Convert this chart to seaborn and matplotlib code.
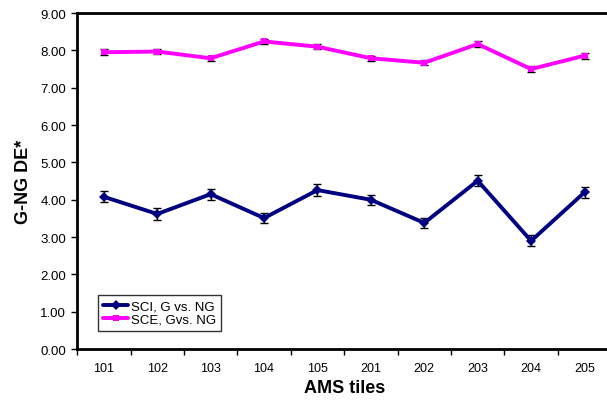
import numpy as np
import pandas as pd
import matplotlib.pyplot as plt
import seaborn as sns
from matplotlib.ticker import FixedLocator, MultipleLocator

# --- DATA ---
tiles = ["101", "102", "103", "104", "105", "201", "202", "203", "204", "205"]
sci_vals = [4.08, 3.62, 4.15, 3.51, 4.26, 4.00, 3.38, 4.51, 2.90, 4.20]
sci_err = [0.15, 0.15, 0.15, 0.13, 0.15, 0.14, 0.14, 0.15, 0.15, 0.15]
sce_vals = [7.95, 7.97, 7.79, 8.24, 8.10, 7.79, 7.67, 8.17, 7.50, 7.86]
sce_err = [0.08, 0.07, 0.07, 0.06, 0.07, 0.07, 0.07, 0.07, 0.07, 0.08]

series_names = ["SCI, G vs. NG", "SCE, Gvs. NG"]
series_colors = ["#000080", "#FF00FF"]

sns.set_style("white")
plt.rcParams["font.family"] = ["Liberation Sans", "DejaVu Sans"]
plt.rcParams["text.color"] = "black"
plt.rcParams["axes.labelcolor"] = "black"
plt.rcParams["xtick.color"] = "black"
plt.rcParams["ytick.color"] = "black"

pos = np.arange(len(tiles))
df = pd.DataFrame({
    "pos": np.concatenate([pos, pos]),
    "value": sci_vals + sce_vals,
    "series": [series_names[0]] * len(tiles) + [series_names[1]] * len(tiles),
})

fig = plt.figure(figsize=(6.07, 4.02), dpi=100)
ax = fig.add_axes([0.127, 0.129, 0.88, 0.836])

# error bars first so the lines sit on top
for vals, errs in [(sci_vals, sci_err), (sce_vals, sce_err)]:
    ax.errorbar(pos, vals, yerr=errs, fmt="none", ecolor="black",
                elinewidth=1.0, capsize=3, capthick=1.0, zorder=1)

sns.lineplot(data=df, x="pos", y="value", hue="series", style="series",
             hue_order=series_names, style_order=series_names,
             palette=series_colors, markers=["D", "s"], dashes=False,
             markersize=5, markeredgewidth=0, linewidth=2.8, ax=ax, zorder=2)

ax.set_xlim(-0.5, len(tiles) - 0.5)
ax.set_ylim(0, 9)
ax.yaxis.set_major_locator(MultipleLocator(1))
ax.yaxis.set_major_formatter(plt.FuncFormatter(lambda v, p: f"{v:.2f}"))

ax.set_xticks(pos)
ax.set_xticklabels(tiles)
ax.xaxis.set_minor_locator(FixedLocator(np.arange(-0.5, len(tiles), 1.0)))
ax.tick_params(axis="x", which="major", length=0, labelsize=9, pad=9)
ax.tick_params(axis="x", which="minor", length=4, width=1, direction="out", bottom=True)
ax.tick_params(axis="y", length=4, width=1, direction="out", left=True, labelsize=9.5, pad=4)

for side in ["left", "bottom", "top"]:
    ax.spines[side].set_color("black")
    ax.spines[side].set_linewidth(2)
ax.spines["right"].set_visible(False)

ax.set_xlabel("AMS tiles", fontsize=13, fontweight="bold", labelpad=4)
ax.set_ylabel("G-NG DE*", fontsize=13, fontweight="bold", labelpad=6)

leg = ax.legend(loc="lower left", bbox_to_anchor=(0.039, 0.054), fontsize=9.5,
                frameon=True, fancybox=False, edgecolor="black",
                handlelength=1.9, handletextpad=0.2, borderpad=0.4,
                labelspacing=0.05, borderaxespad=0)
leg.get_frame().set_linewidth(1.0)
leg.set_title(None)

fig.savefig("out.png", dpi=100)
